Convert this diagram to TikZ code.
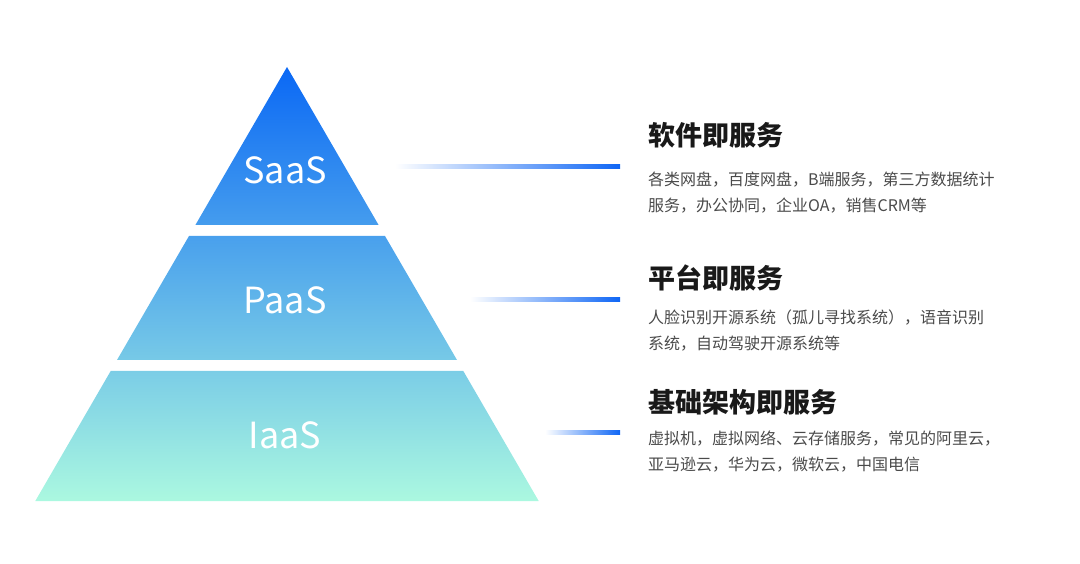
\documentclass[tikz,border=0pt]{standalone}
\usepackage{fontspec}
\setmainfont{Noto Sans CJK SC}
\newfontfamily\cjk{Noto Sans CJK SC}
\definecolor{apexblue}{HTML}{0A68F5}
\definecolor{midblue}{HTML}{55AAEE}
\definecolor{basemint}{HTML}{ABF8E0}
\definecolor{linemint}{HTML}{9CF0D6}
\definecolor{lineblue}{HTML}{0F66F5}
\definecolor{bodygray}{HTML}{4A4A4A}
\tikzset{
  layerlabel/.style={text=white,font=\cjk\fontsize{36}{36}\selectfont},
  headtext/.style={anchor=west,inner sep=0pt,text=black!90,font=\cjk\bfseries\fontsize{27}{27}\selectfont},
  bodytext/.style={anchor=north west,inner sep=0pt,align=left,text=bodygray,font=\cjk\fontsize{16}{26}\selectfont},
  leader/.style={left color=white,middle color=linemint,right color=lineblue}
}
\begin{document}
\begin{tikzpicture}[x=1pt,y=1pt]
\useasboundingbox (0,0) rectangle (1080,563);
% pyramid, one shading over the three layers
\shade[top color=apexblue,middle color=midblue,bottom color=basemint]
  (287,496) -- (378.6,338) -- (195.4,338) -- cycle
  (189,327) -- (385,327) -- (457,203) -- (117,203) -- cycle
  (110.7,192) -- (463.3,192) -- (538.7,62) -- (35.3,62) -- cycle;
\node[layerlabel] (saas) at (285,393) {SaaS};
\node[layerlabel] (paas) at (285,263) {PaaS};
\node[layerlabel] (iaas) at (285,128) {IaaS};
% leader lines
\coordinate (s1) at (395,394);
\coordinate (s2) at (620,398);
\coordinate (p1) at (470,261);
\coordinate (p2) at (620,265);
\coordinate (i1) at (545,128);
\coordinate (i2) at (620,132);
\shade[leader] (s1) rectangle (s2);
\shade[leader] (p1) rectangle (p2);
\shade[leader] (i1) rectangle (i2);
% texts
\node[headtext] (saashead) at (648,428) {软件即服务};
\node[bodytext] (saasbody) at (648,391) {各类网盘，百度网盘，B端服务，第三方数据统计\\服务，办公协同，企业OA，销售CRM等};
\node[headtext] (paashead) at (648,285) {平台即服务};
\node[bodytext] (paasbody) at (648,253) {人脸识别开源系统（孤儿寻找系统），语音识别\\系统，自动驾驶开源系统等};
\node[headtext] (iaashead) at (648,161) {基础架构即服务};
\node[bodytext] (iaasbody) at (648,132) {虚拟机，虚拟网络、云存储服务，常见的阿里云，\\亚马逊云，华为云，微软云，中国电信};
\end{tikzpicture}
\end{document}
